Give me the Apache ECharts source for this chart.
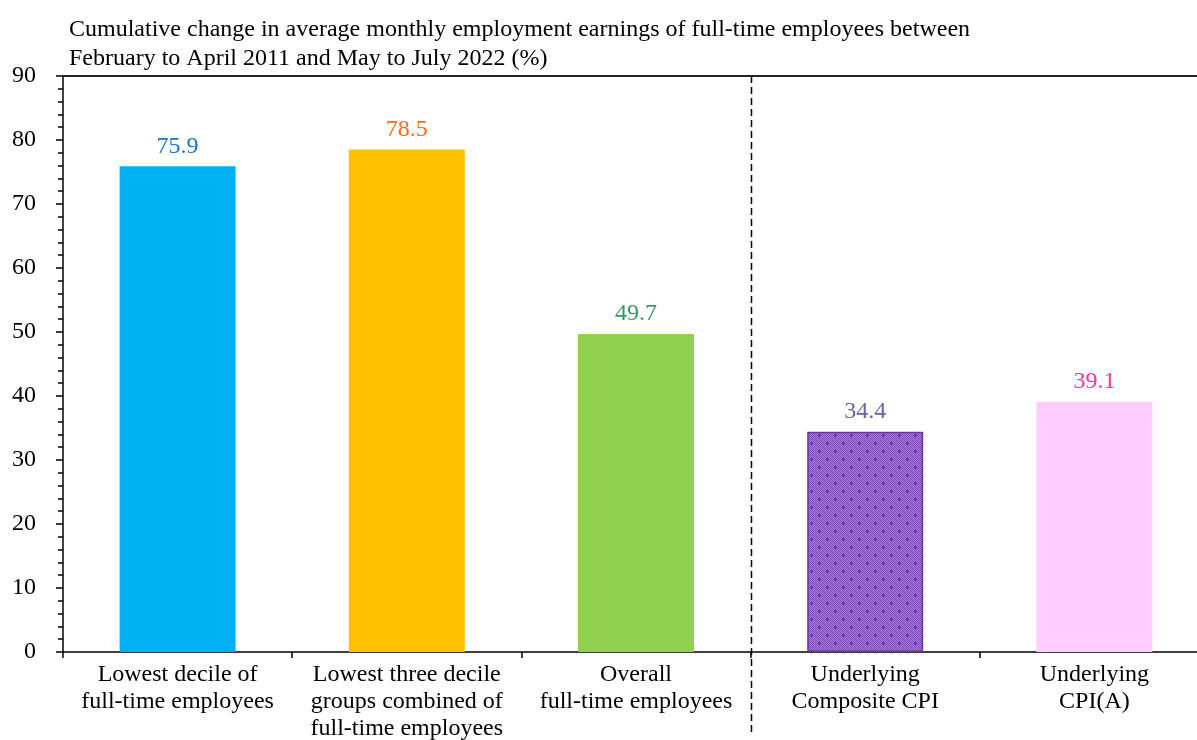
<!DOCTYPE html>
<html>
<head>
<meta charset="utf-8">
<script src="https://cdn.jsdelivr.net/npm/echarts@6/dist/echarts.min.js"></script>
<style>
  html, body { margin: 0; padding: 0; background: #fff; }
  #chart { width: 1197px; height: 740px; }
</style>
</head>
<body>
<div id="chart"></div>
<script>
// Cumulative change in earnings vs. underlying CPI (%)
const categories = [
  'Lowest decile of\nfull-time employees',
  'Lowest three decile\ngroups combined of\nfull-time employees',
  'Overall\nfull-time employees',
  'Underlying\nComposite CPI',
  'Underlying\nCPI(A)'
];
const values = [75.9, 78.5, 49.7, 34.4, 39.1];
const barColors = ['#00B0F0', '#FFC000', '#92D050', null, '#FFCCFF'];
const labelColors = ['#1874CD', '#FF6A13', '#339966', '#6B62A6', '#FF3399'];
const yTicks = { min: 0, max: 90, interval: 10 };
const dividerAfter = 3; // dashed divider sits after the third category

const FONT = '"Liberation Serif", "Times New Roman", serif';

// Dotted purple fill with small crosses
function makePattern() {
  const c = document.createElement('canvas');
  c.width = 16; c.height = 16;
  const g = c.getContext('2d');
  for (let y = 0; y < 16; y++) {
    for (let x = 0; x < 16; x++) {
      g.fillStyle = ((x + y) % 2 === 0) ? '#7E46B2' : '#A884D0';
      g.fillRect(x, y, 1, 1);
    }
  }
  g.fillStyle = '#6A2A9C';
  [[3, 3], [11, 11]].forEach(([cx, cy]) => {
    g.fillRect(cx - 1, cy, 3, 1);
    g.fillRect(cx, cy - 1, 1, 3);
  });
  return c;
}

const patternFill = { image: makePattern(), repeat: 'repeat' };

const barData = values.map((v, i) => ({
  value: v,
  itemStyle: barColors[i]
    ? { color: barColors[i] }
    : { color: patternFill, borderColor: '#7030A0', borderWidth: 1.5 },
  label: { color: labelColors[i] }
}));

const chart = echarts.init(document.getElementById('chart'), null, { renderer: 'canvas' });

chart.setOption({
  animation: false,
  backgroundColor: '#fff',
  title: {
    text: 'Cumulative change in average monthly employment earnings of full-time employees between\nFebruary to April 2011 and May to July 2022 (%)',
    left: 64,
    top: 10,
    textStyle: { fontFamily: FONT, fontSize: 24, fontWeight: 'normal', color: '#000', lineHeight: 29 }
  },
  // the plot runs slightly past the right edge of the canvas
  grid: {
    left: 63, width: 1146, top: 76, bottom: 88,
    containLabel: false, outerBoundsMode: 'none'
  },
  xAxis: [
    {
      type: 'category',
      data: categories,
      axisLine: { lineStyle: { color: '#000', width: 1.5 } },
      axisTick: { show: true, length: 6, lineStyle: { color: '#000', width: 1.5 } },
      axisLabel: {
        fontFamily: FONT, fontSize: 24, color: '#000', lineHeight: 27,
        margin: 9, interval: 0
      }
    },
    {
      type: 'category',
      data: categories,
      position: 'top',
      axisLine: { show: true, onZero: false, lineStyle: { color: '#222', width: 2 } },
      axisTick: { show: false },
      axisLabel: { show: false }
    }
  ],
  yAxis: {
    type: 'value',
    min: yTicks.min,
    max: yTicks.max,
    interval: yTicks.interval,
    axisLine: { show: true, lineStyle: { color: '#000', width: 1.5 } },
    axisTick: { show: true, length: 7, lineStyle: { color: '#000', width: 1.5 } },
    minorTick: { show: true, splitNumber: 5, length: 5, lineStyle: { color: '#000', width: 1.5 } },
    splitLine: { show: false },
    axisLabel: { fontFamily: FONT, fontSize: 24, color: '#000', margin: 27 }
  },
  series: [{
    type: 'bar',
    xAxisIndex: 0,
    data: barData,
    barWidth: '50.6%',
    label: {
      show: true,
      position: 'top',
      distance: 8,
      fontFamily: FONT,
      fontSize: 24,
      formatter: p => p.value.toFixed(1)
    }
  }]
});

// Dashed divider between earnings and CPI groups, extended below the axis
function drawDivider() {
  const left = chart.convertToPixel({ xAxisIndex: 0 }, dividerAfter - 1);
  const right = chart.convertToPixel({ xAxisIndex: 0 }, dividerAfter);
  const x = Math.round((left + right) / 2) + 0.5;
  const yTop = chart.convertToPixel({ yAxisIndex: 0 }, yTicks.max);
  chart.setOption({
    graphic: [{
      type: 'line',
      z: 100,
      shape: { x1: x, y1: yTop, x2: x, y2: 736 },
      style: { stroke: '#000', lineWidth: 1.5, lineDash: [7, 4] }
    }]
  });
}
drawDivider();
</script>
</body>
</html>
